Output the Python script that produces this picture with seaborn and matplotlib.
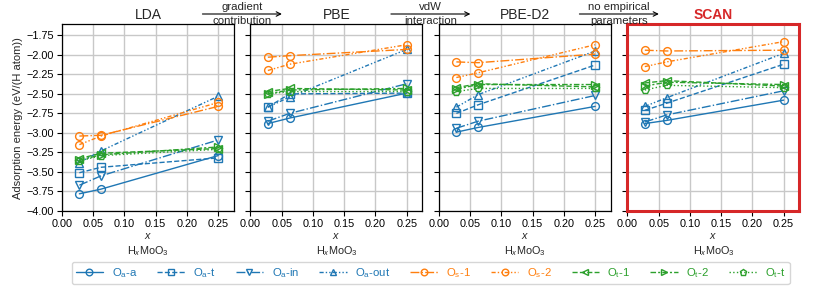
import numpy as np
import pandas as pd
import matplotlib
matplotlib.use("Agg")
import matplotlib.pyplot as plt
from matplotlib.patches import FancyArrowPatch
import seaborn as sns

# ---------------- data ----------------
functionals = ["LDA", "PBE", "PBE-D2", "SCAN"]
arrow_texts = ["gradient\ncontribution", "vdW\ninteraction", "no empirical\nparameters"]
x_vals = [0.0278, 0.0625, 0.25]
xticks = [0.00, 0.05, 0.10, 0.15, 0.20, 0.25]
yticks = [-4.00, -3.75, -3.50, -3.25, -3.00, -2.75, -2.50, -2.25, -2.00, -1.75]

series_names = ["O$_\\mathrm{a}$-a", "O$_\\mathrm{a}$-t", "O$_\\mathrm{a}$-in", "O$_\\mathrm{a}$-out",
                "O$_\\mathrm{s}$-1", "O$_\\mathrm{s}$-2",
                "O$_\\mathrm{t}$-1", "O$_\\mathrm{t}$-2", "O$_\\mathrm{t}$-t"]

# rows: LDA, PBE, PBE-D2, SCAN ; columns: x_vals
oa_a   = [[-3.78, -3.72, -3.29], [-2.88, -2.81, -2.49], [-2.99, -2.93, -2.66], [-2.88, -2.84, -2.58]]
oa_t   = [[-3.51, -3.44, -3.32], [-2.67, -2.50, -2.49], [-2.75, -2.64, -2.13], [-2.71, -2.62, -2.12]]
oa_in  = [[-3.67, -3.55, -3.09], [-2.85, -2.75, -2.37], [-2.94, -2.85, -2.52], [-2.86, -2.77, -2.46]]
oa_out = [[-3.38, -3.23, -2.53], [-2.67, -2.54, -1.93], [-2.67, -2.51, -1.95], [-2.66, -2.55, -1.98]]
os_1   = [[-3.04, -3.03, -2.66], [-2.03, -2.01, -1.93], [-2.09, -2.10, -1.99], [-1.94, -1.95, -1.94]]
os_2   = [[-3.15, -3.04, -2.61], [-2.20, -2.12, -1.87], [-2.29, -2.23, -1.87], [-2.15, -2.09, -1.83]]
ot_1   = [[-3.33, -3.26, -3.20], [-2.47, -2.43, -2.45], [-2.42, -2.37, -2.41], [-2.36, -2.33, -2.40]]
ot_2   = [[-3.35, -3.28, -3.18], [-2.50, -2.45, -2.43], [-2.44, -2.38, -2.38], [-2.40, -2.35, -2.38]]
ot_t   = [[-3.36, -3.29, -3.21], [-2.50, -2.47, -2.47], [-2.47, -2.43, -2.43], [-2.45, -2.39, -2.42]]

all_series = [oa_a, oa_t, oa_in, oa_out, os_1, os_2, ot_1, ot_2, ot_t]

# ---------------- styles ----------------
blue, orange, green = "#1f77b4", "#ff7f0e", "#2ca02c"
colors = [blue, blue, blue, blue, orange, orange, green, green, green]
markers = ["o", "s", "v", "^", "o", "o", "<", ">", "p"]
linestyles = ["-", "--", "-.", (0, (3, 1.5, 1, 1.5, 1, 1.5)),
              "-.", (0, (3, 1.5, 1, 1.5, 1, 1.5)),
              "--", (0, (4, 1.5, 1.5, 1.5)), ":"]

rows = []
for name, s in zip(series_names, all_series):
    for fi, f in enumerate(functionals):
        for xv, yv in zip(x_vals, s[fi]):
            rows.append({"series": name, "functional": f, "x": xv, "y": yv})
df = pd.DataFrame(rows)

sns.set_style("ticks", {"axes.grid": True, "grid.color": "#cfcfcf", "axes.edgecolor": "black"})
plt.rcParams["font.family"] = ["Liberation Sans", "DejaVu Sans"]
plt.rcParams["mathtext.fontset"] = "custom"
plt.rcParams["mathtext.rm"] = "Liberation Sans"
plt.rcParams["mathtext.it"] = "Liberation Sans:italic"
plt.rcParams["mathtext.bf"] = "Liberation Sans:bold"

fig, axes = plt.subplots(1, 4, figsize=(8.30, 2.91), dpi=100, sharey=True)
fig.subplots_adjust(left=0.0747, right=0.963, top=0.916, bottom=0.275, wspace=0.097)

for fi, (ax, f) in enumerate(zip(axes, functionals)):
    for si, name in enumerate(series_names):
        sub = df[(df.series == name) & (df.functional == f)]
        sns.lineplot(data=sub, x="x", y="y", ax=ax, color=colors[si], marker=markers[si],
                     linestyle=linestyles[si], linewidth=1.0, markersize=5.6,
                     markerfacecolor="none", markeredgecolor=colors[si], markeredgewidth=1.0,
                     label=name, legend=False)
    ax.set_xlim(0, 0.275)
    ax.set_ylim(-4.0, -1.61)
    ax.set_xticks(xticks)
    ax.set_xticklabels([f"{t:.2f}" for t in xticks])
    ax.set_yticks(yticks)
    ax.set_yticklabels([f"{t:.2f}".replace("-", "\u2212") for t in yticks])
    ax.tick_params(labelsize=7.8, length=3.5, width=0.8, pad=2, colors="black")
    ax.set_xlabel("$x$\nH$_x$MoO$_3$", fontsize=7.8, labelpad=2, linespacing=1.3)
    ax.set_ylabel("")
    ax.grid(True, color="#c8c8c8", linewidth=1.0)
    for sp in ax.spines.values():
        sp.set_linewidth(0.9)
        sp.set_color("black")
    if f == "SCAN":
        ax.set_title(f, fontsize=10, color="#d62728", fontweight="bold", pad=4)
        for sp in ax.spines.values():
            sp.set_color("#d62728")
            sp.set_linewidth(2.2)
    else:
        ax.set_title(f, fontsize=10, pad=4)

axes[0].set_ylabel("Adsorption energy (eV/(H atom))", fontsize=8, labelpad=3)

# arrows between panel titles
ya = 1 - 14 / 291
half = 42.5 / 830
for i, txt in enumerate(arrow_texts):
    p0 = axes[i].get_position()
    p1 = axes[i + 1].get_position()
    xc = (p0.x1 + p1.x0) / 2
    fig.add_artist(FancyArrowPatch((xc - half, ya), (xc + half, ya), transform=fig.transFigure,
                                   arrowstyle="->", mutation_scale=8, lw=0.8, color="black"))
    top_t, bot_t = txt.split("\n")
    fig.text(xc, ya + 0.008, top_t, ha="center", va="bottom", fontsize=8.2)
    fig.text(xc, ya - 0.006, bot_t, ha="center", va="top", fontsize=8.2)

# legend
handles, labels = axes[0].get_legend_handles_labels()
p0 = axes[0].get_position()
p3 = axes[3].get_position()
leg = fig.legend(handles, labels, loc="center", ncol=9, fontsize=8.2,
                 bbox_to_anchor=((p0.x0 + p3.x1) / 2, 1 - 273 / 291),
                 handlelength=2.4, columnspacing=1.75, handletextpad=0.75,
                 markerscale=0.85, frameon=True, borderpad=0.35)
for t, c in zip(leg.get_texts(), colors):
    t.set_color(c)

fig.savefig("out.png", dpi=100)
